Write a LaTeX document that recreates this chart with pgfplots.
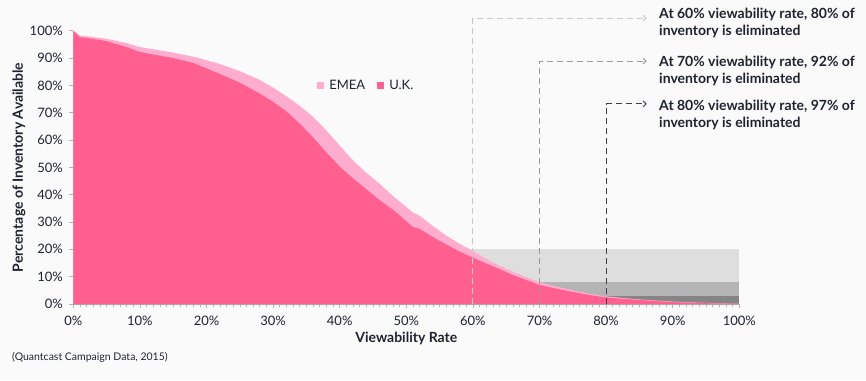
\documentclass[border=0pt]{standalone}
\usepackage{fontspec}
\setmainfont{Lato}
\usepackage{pgfplots}
\pgfplotsset{compat=1.18}
\usetikzlibrary{arrows.meta}
\definecolor{bg}{HTML}{FAFAFA}
\definecolor{emea}{HTML}{FFADCF}
\definecolor{uk}{HTML}{FF6090}
\definecolor{glight}{HTML}{DEDEDE}
\definecolor{gmid}{HTML}{B4B4B4}
\definecolor{gdark}{HTML}{858585}
\definecolor{d60}{HTML}{C8C8C8}
\definecolor{d70}{HTML}{999999}
\definecolor{d80}{HTML}{3A3F4A}
\definecolor{txt}{HTML}{1F2330}
\begin{document}
\begin{tikzpicture}[x=1bp,y=1bp]
\fill[bg] (0,0) rectangle (866,380);
\useasboundingbox (0,0) rectangle (866,380);
\begin{axis}[
  scale only axis, width=666bp, height=273.3bp,
  at={(73.3bp,76bp)}, anchor=south west,
  xmin=0, xmax=100, ymin=0, ymax=100,
  axis x line*=bottom, axis y line*=left,
  axis line style={draw=gray!70, line width=0.8pt},
  clip=false,
  xtick={0,10,...,100}, ytick={0,10,...,100},
  minor x tick num=9,
  tick align=outside,
  major tick length=4bp, minor tick length=3bp,
  tick style={draw=gray!60, line width=0.6pt},
  xticklabels={0\%,10\%,20\%,30\%,40\%,50\%,60\%,70\%,80\%,90\%,100\%},
  yticklabels={0\%,10\%,20\%,30\%,40\%,50\%,60\%,70\%,80\%,90\%,100\%},
  /pgf/number format/assume math mode=true,
  tick label style={font=\fontsize{13bp}{15bp}\selectfont, text=txt},
  xticklabel style={yshift=-5bp},
  yticklabel style={xshift=-3bp},
  xlabel={\textbf{Viewability Rate}},
  ylabel={\textbf{Percentage of Inventory Available}},
  label style={font=\fontsize{14bp}{16bp}\selectfont, text=txt},
  xlabel style={at={(axis description cs:0.5,-0.1245)}, anchor=center},
  ylabel style={at={(axis description cs:-0.0815,0.5)}, anchor=center},
  legend columns=2,
  legend style={at={(axis description cs:0.44,0.80)}, anchor=center, draw=none, fill=none,
    font=\fontsize{13bp}{15bp}\selectfont, text=txt,
    /tikz/every even column/.append style={column sep=10bp}},
  legend image code/.code={\fill[#1] (0bp,-3.5bp) rectangle (7bp,3.5bp); \path (10bp,0bp);},
]
\addplot[fill=glight, draw=none, forget plot] coordinates {(60,0) (60,20) (100,20) (100,0)} -- cycle;
\addplot[fill=gmid, draw=none, forget plot] coordinates {(70,0) (70,8) (100,8) (100,0)} -- cycle;
\addplot[fill=gdark, draw=none, forget plot] coordinates {(80,0) (80,3) (100,3) (100,0)} -- cycle;
\addplot[fill=emea, draw=none] table {
x y
0 100
1 98.2
2 98.0
5 97.0
8 95.5
10 94.0
12 93.2
15 92.0
18 90.5
20 89.2
22 87.8
25 85.2
28 82.0
30 79.2
32 76.0
34 72.5
36 68.5
38 63.5
40 58.0
42 52.5
44 48.0
46 44.0
48 39.5
50 35.5
51 33.5
52 32.3
54 28.5
56 25.0
58 22.0
60 19.5
62 16.5
64 14.0
66 11.8
68 9.8
70 8.0
72 6.7
75 5.0
78 3.5
80 2.8
83 2.1
85 1.7
88 1.2
90 0.9
93 0.6
95 0.4
98 0.2
100 0.1
} \closedcycle;
\addlegendentry{EMEA}
\addplot[fill=uk, draw=none] table {
x y
0 100
1 97.6
2 97.4
5 96.2
8 94.0
10 92.2
12 91.3
15 90.0
18 88.2
20 86.2
22 84.2
25 81.0
28 77.0
30 74.0
32 70.5
34 66.0
36 61.0
38 55.5
40 50.3
42 46.0
44 42.0
46 38.0
48 34.5
50 30.3
51 28.2
52 27.5
54 24.5
56 21.8
58 19.2
60 17.0
62 14.8
64 12.8
66 10.6
68 8.8
70 7.0
72 5.9
75 4.4
78 3.1
80 2.4
83 1.8
85 1.5
88 1.0
90 0.7
93 0.45
95 0.3
98 0.15
100 0.05
} \closedcycle;
\addlegendentry{U.K.}
\draw[d60, line width=1pt, dash pattern=on 6bp off 4bp, -{Straight Barb[length=3bp]}] (axis cs:60,0) -- (axis cs:60,104.6) -- (axis cs:86.1,104.6);
\draw[d70, line width=1pt, dash pattern=on 6bp off 4bp, -{Straight Barb[length=3bp]}] (axis cs:70,0) -- (axis cs:70,88.9) -- (axis cs:86.1,88.9);
\draw[d80, line width=1pt, dash pattern=on 6bp off 4bp, -{Straight Barb[length=3bp]}] (axis cs:80,0) -- (axis cs:80,73.2) -- (axis cs:86.1,73.2);
\end{axis}
\begin{scope}[every node/.style={anchor=base west, inner sep=0pt, text=txt, font=\fontsize{14bp}{16bp}\selectfont\bfseries}]
\node at (659,361.7) {At 60\% viewability rate, 80\% of};
\node at (659,345) {inventory is eliminated};
\node at (659,314) {At 70\% viewability rate, 92\% of};
\node at (659,297) {inventory is eliminated};
\node at (659,270) {At 80\% viewability rate, 97\% of};
\node at (659,253) {inventory is eliminated};
\end{scope}
\node[anchor=west, inner sep=0pt, text=txt, font=\fontsize{10.5bp}{12bp}\selectfont] at (12,23) {(Quantcast Campaign Data, 2015)};
\end{tikzpicture}
\end{document}
